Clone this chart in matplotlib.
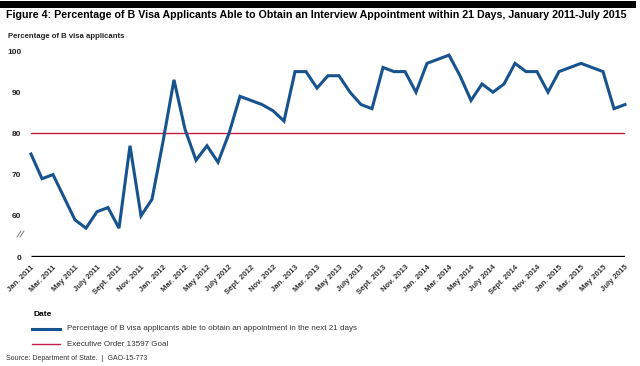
import matplotlib.pyplot as plt
from matplotlib.lines import Line2D
from matplotlib.patches import Rectangle

plt.rcParams['font.family'] = ['Liberation Sans', 'DejaVu Sans']

# monthly values, Jan 2011 - July 2015
pct_21_days = [75, 69, 70, 64.5, 59, 57, 61, 62, 57, 77, 60, 64,
               78, 93, 81, 73.5, 77, 73, 80, 89, 88, 87, 85.5, 83,
               95, 95, 91, 94, 94, 90, 87, 86, 96, 95, 95, 90,
               97, 98, 99, 94, 88, 92, 90, 92, 97, 95, 95, 90,
               95, 96, 97, 96, 95, 86, 87]
goal = 80
month_names = ['Jan.', 'Mar.', 'May', 'July', 'Sept.', 'Nov.']
years = [2011, 2012, 2013, 2014, 2015]
y_ticks = [50, 60, 70, 80, 90, 100]
y_labels = ['0', '60', '70', '80', '90', '100']

BLUE = '#17538f'
RED = '#c21d45'
W, H = 640, 366


def fx(x):
    return x / W


def fy(y):
    return 1 - y / H


def main():
    fig = plt.figure(figsize=(6.4, 3.66), dpi=100)

    # black band on top + title
    fig.patches.append(Rectangle((0, fy(8)), fx(636), 7 / H, transform=fig.transFigure,
                                 color='black', lw=0))
    fig.text(fx(6), fy(15), 'Figure 4: Percentage of B Visa Applicants Able to Obtain an '
             'Interview Appointment within 21 Days, January 2011-July 2015',
             fontsize=7.7, fontweight='bold', va='center', ha='left')
    fig.text(fx(8), fy(37), 'Percentage of B visa applicants', fontsize=5.6,
             fontweight='bold', va='center', ha='left', color='#222222')

    ax = fig.add_axes([fx(31), fy(257), 594 / W, 206 / H])
    n = len(pct_21_days)
    xs = list(range(n))
    ax.plot(xs, pct_21_days, color=BLUE, lw=2.2, solid_joinstyle='miter', clip_on=False, zorder=3)
    ax.plot([0, n - 1 + 0.2], [goal, goal], color=RED, lw=1.0, zorder=2)
    ax.plot([0, n - 1], [50, 50], color='black', lw=2.4, solid_capstyle='butt', zorder=4)
    ax.set_xlim(0, n - 1)
    ax.set_ylim(50, 100)
    for s in ax.spines.values():
        s.set_visible(False)

    ax.set_yticks(y_ticks, labels=y_labels)
    ax.tick_params(axis='y', length=0, pad=7, labelsize=6)
    for t in ax.get_yticklabels():
        t.set_fontweight('bold')
        t.set_color('#222222')

    tick_pos = []
    tick_labels = []
    for i in range(0, n, 2):
        tick_pos.append(i)
        tick_labels.append(f'{month_names[(i % 12) // 2]} {years[i // 12]}')
    ax.set_xticks(tick_pos, labels=tick_labels)
    ax.tick_params(axis='x', length=0, pad=5, labelsize=5.6)
    for t in ax.get_xticklabels():
        t.set_rotation(45)
        t.set_ha('right')
        t.set_va('top')
        t.set_rotation_mode('anchor')
        t.set_fontweight('bold')
        t.set_color('#333333')

    # axis break mark
    for dx in (0, 3):
        fig.add_artist(Line2D([fx(17 + dx), fx(21 + dx)], [fy(237), fy(231)],
                              color='#666666', lw=0.6))

    # legend
    fig.text(fx(33), fy(315), 'Date', fontsize=6, fontweight='bold', va='center')
    fig.add_artist(Line2D([fx(32), fx(60)], [fy(329), fy(329)], color=BLUE, lw=2.2))
    fig.add_artist(Line2D([fx(32), fx(60)], [fy(344), fy(344)], color=RED, lw=1.0))
    fig.text(fx(67), fy(329), 'Percentage of B visa applicants able to obtain an appointment '
             'in the next 21 days', fontsize=5.8, va='center', color='#333333')
    fig.text(fx(67), fy(344), 'Executive Order 13597 Goal', fontsize=5.8, va='center',
             color='#333333')
    fig.text(fx(6), fy(358), 'Source: Department of State.  |  GAO-15-773', fontsize=5,
             va='center', color='#333333')

    fig.savefig('out.png', dpi=100)


if __name__ == '__main__':
    main()
